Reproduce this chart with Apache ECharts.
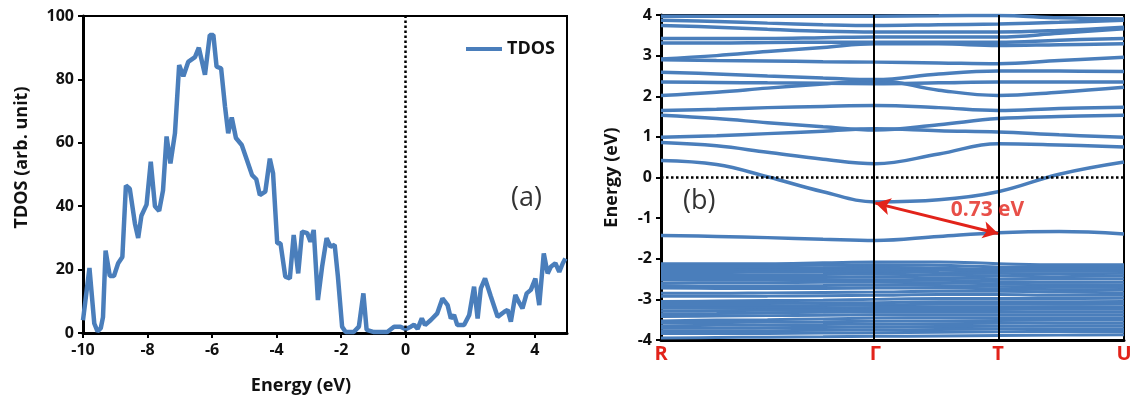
<!DOCTYPE html>
<html><head><meta charset="utf-8">
<script src="https://cdn.jsdelivr.net/npm/echarts@6/dist/echarts.min.js"></script>
<style>html,body{margin:0;padding:0;background:#fff}#c{width:1136px;height:409px}</style>
</head><body><div id="c"></div>
<script>
// ---- Panel (a): TDOS ----
const tdosE = [-10.0,-9.8,-9.65,-9.55,-9.45,-9.38,-9.3,-9.17,-9.04,-8.91,-8.78,-8.67,-8.55,-8.39,-8.29,-8.19,-8.03,-7.9,-7.77,-7.64,-7.52,-7.41,-7.29,-7.15,-7.02,-6.89,-6.74,-6.53,-6.41,-6.22,-6.07,-5.96,-5.86,-5.72,-5.6,-5.5,-5.39,-5.26,-5.08,-4.92,-4.76,-4.63,-4.52,-4.35,-4.21,-4.11,-3.98,-3.88,-3.73,-3.59,-3.47,-3.33,-3.21,-3.05,-2.95,-2.85,-2.72,-2.59,-2.45,-2.33,-2.2,-2.1,-1.97,-1.86,-1.61,-1.45,-1.31,-1.21,-0.98,-0.57,-0.36,-0.16,0.0,0.16,0.26,0.37,0.5,0.6,0.78,0.98,1.14,1.3,1.4,1.5,1.6,1.81,1.97,2.12,2.23,2.33,2.46,2.64,2.85,3.06,3.16,3.26,3.4,3.5,3.62,3.75,3.88,4.02,4.14,4.28,4.4,4.5,4.64,4.76,4.87,4.95];
const tdosV = [4,20.5,3,0.5,1.5,5,26,18,18,22,24,46.5,45.5,34.5,30,37,40.5,54,40,38.5,45,62,53.5,63,84.5,81,85.5,87,90,81.5,94,94,84,83.5,71.5,63,68,61.5,59.3,54.6,49.8,48.5,43.5,44.6,55,50.4,28.3,28.3,17.8,17.2,30.9,18.8,32,31.5,28.8,32.5,10.4,20.9,29.9,27.2,27.8,17.8,2,0.3,0.3,2,12.5,1,0.3,0.3,2,2,1.2,2,2.6,1.3,4.6,2.5,4.1,6.2,10.9,8.8,4.6,5.7,2.5,2.5,5.7,14.6,4.6,14.1,17.2,11.5,5.1,6.7,7.3,3.6,12,9.9,7.8,12.5,13.6,17.2,8.8,25.1,18.8,20.9,22,19.3,22,23.5];

// ---- Panel (b): band structure ----
const kPoints = [0, 0.12, 0.23, 0.35, 0.463, 0.6, 0.728, 0.86, 1];   // sample positions along path
const kLabelPos = [0, 0.463, 0.728, 1];
const kLabels = ['R', 'Γ', 'T', 'U'];
const condBands = [
  [0.42, 0.32, 0.02, -0.35, -0.6, -0.55, -0.35, 0.08, 0.38],
  [0.86, 0.78, 0.62, 0.45, 0.34, 0.58, 0.83, 0.8, 0.75],
  [0.99, 1.03, 1.08, 1.14, 1.2, 1.15, 1.12, 1.05, 0.99],
  [1.53, 1.45, 1.35, 1.25, 1.17, 1.3, 1.45, 1.5, 1.53],
  [1.65, 1.68, 1.72, 1.75, 1.77, 1.72, 1.65, 1.7, 1.73],
  [2.02, 2.1, 2.2, 2.3, 2.39, 2.15, 2.02, 2.1, 2.22],
  [2.35, 2.34, 2.33, 2.32, 2.31, 2.33, 2.35, 2.35, 2.35],
  [2.59, 2.55, 2.5, 2.45, 2.41, 2.55, 2.62, 2.62, 2.61],
  [2.9, 2.88, 2.87, 2.85, 2.84, 2.82, 2.8, 2.88, 2.96],
  [2.92, 3.0, 3.1, 3.2, 3.29, 3.29, 3.25, 3.27, 3.29],
  [3.31, 3.31, 3.32, 3.33, 3.33, 3.33, 3.33, 3.38, 3.42],
  [3.42, 3.42, 3.42, 3.44, 3.46, 3.46, 3.46, 3.55, 3.66],
  [3.74, 3.7, 3.65, 3.6, 3.58, 3.58, 3.58, 3.62, 3.7],
  [3.87, 3.84, 3.8, 3.76, 3.74, 3.76, 3.78, 3.82, 3.87],
  [3.97, 3.97, 3.97, 3.97, 3.97, 3.98, 3.99, 3.93, 3.9]
];
const valBands = [
  [-1.43, -1.45, -1.48, -1.52, -1.55, -1.45, -1.36, -1.33, -1.39],
  [-2.12, -2.12, -2.12, -2.1, -2.08, -2.08, -2.12, -2.15, -2.15],
  [-2.17, -2.17, -2.17, -2.16, -2.15, -2.16, -2.2, -2.2, -2.2],
  [-2.23, -2.23, -2.23, -2.22, -2.21, -2.23, -2.26, -2.26, -2.25],
  [-2.29, -2.29, -2.28, -2.27, -2.26, -2.28, -2.31, -2.31, -2.3],
  [-2.34, -2.34, -2.33, -2.32, -2.31, -2.34, -2.36, -2.37, -2.36],
  [-2.4, -2.4, -2.4, -2.39, -2.38, -2.4, -2.42, -2.44, -2.42],
  [-2.46, -2.46, -2.46, -2.46, -2.45, -2.47, -2.49, -2.5, -2.49],
  [-2.52, -2.52, -2.52, -2.52, -2.52, -2.53, -2.56, -2.58, -2.57],
  [-2.6, -2.59, -2.59, -2.58, -2.58, -2.59, -2.62, -2.64, -2.64],
  [-2.66, -2.67, -2.67, -2.66, -2.65, -2.66, -2.68, -2.7, -2.71],
  [-2.72, -2.73, -2.73, -2.73, -2.72, -2.72, -2.74, -2.76, -2.77],
  [-2.85, -2.85, -2.84, -2.83, -2.82, -2.8, -2.8, -2.82, -2.84],
  [-2.92, -2.92, -2.92, -2.91, -2.9, -2.88, -2.88, -2.9, -2.9],
  [-3.05, -3.04, -3.03, -3.02, -3.0, -2.98, -2.98, -2.98, -2.97],
  [-3.1, -3.1, -3.1, -3.09, -3.08, -3.06, -3.06, -3.06, -3.05],
  [-3.16, -3.16, -3.16, -3.15, -3.14, -3.12, -3.12, -3.12, -3.11],
  [-3.22, -3.22, -3.22, -3.21, -3.2, -3.19, -3.19, -3.18, -3.18],
  [-3.29, -3.28, -3.27, -3.26, -3.25, -3.25, -3.25, -3.24, -3.24],
  [-3.36, -3.35, -3.33, -3.32, -3.31, -3.31, -3.31, -3.31, -3.31],
  [-3.42, -3.41, -3.4, -3.39, -3.38, -3.38, -3.38, -3.38, -3.38],
  [-3.53, -3.51, -3.5, -3.48, -3.46, -3.45, -3.45, -3.45, -3.45],
  [-3.57, -3.57, -3.56, -3.55, -3.54, -3.53, -3.52, -3.51, -3.51],
  [-3.65, -3.64, -3.63, -3.62, -3.61, -3.6, -3.59, -3.58, -3.58],
  [-3.71, -3.71, -3.7, -3.69, -3.68, -3.67, -3.66, -3.65, -3.65],
  [-3.78, -3.78, -3.77, -3.76, -3.75, -3.74, -3.73, -3.72, -3.72],
  [-3.84, -3.84, -3.84, -3.83, -3.82, -3.81, -3.8, -3.79, -3.79],
  [-3.95, -3.94, -3.93, -3.92, -3.91, -3.9, -3.89, -3.88, -3.87]
];
const gapFrom = [0.463, -0.63];
const gapTo = [0.728, -1.38];
const gapText = '0.73 eV';
const gapTextAt = [0.705, -0.8];

const FONT = '"Open Sans"';
const BLUE = '#4a7ebb';
const RED = '#e2231a';
const chart = echarts.init(document.getElementById('c'), null, {renderer: 'canvas'});

const bandSeries = [...condBands, ...valBands].map((b, i) => ({
  type: 'line', xAxisIndex: 1, yAxisIndex: 1,
  data: kPoints.map((k, j) => [k, b[j]]),
  smooth: 0.4, showSymbol: false, silent: true,
  lineStyle: {color: BLUE, width: i < condBands.length + 1 ? 3.5 : 3}, z: 2
}));

const tickLbl = {color: '#111', fontFamily: FONT, fontWeight: 'bold', fontSize: 16};
const nameStyle = {fontFamily: FONT, fontWeight: 'bold', fontSize: 18, color: '#111'};

const option = {
  animation: false,
  backgroundColor: '#fff',
  grid: [
    {left: 83, right: 569, top: 16, bottom: 76, show: true, borderColor: '#000', borderWidth: 2, backgroundColor: 'transparent'},
    {left: 661, right: 12, top: 15, bottom: 69, show: true, borderColor: '#000', borderWidth: 2, backgroundColor: 'transparent'}
  ],
  legend: {
    data: ['TDOS'], left: 461, top: 35, icon: 'rect', itemWidth: 36, itemHeight: 4, itemGap: 2,
    textStyle: {fontFamily: FONT, fontWeight: 'bold', fontSize: 18, color: '#111'}
  },
  xAxis: [
    {type: 'value', gridIndex: 0, min: -10, max: 5, interval: 2,
     name: 'Energy (eV)', nameLocation: 'middle', nameGap: 44,
     nameTextStyle: Object.assign({padding: [0, 48, 0, 0]}, nameStyle),
     axisLine: {onZero: false, lineStyle: {color: '#000', width: 3}},
     axisTick: {show: true, inside: false, length: 5, lineStyle: {color: '#000', width: 2}},
     axisLabel: Object.assign({margin: 9, showMaxLabel: false}, tickLbl),
     splitLine: {show: false}},
    {type: 'value', gridIndex: 1, min: 0, max: 1,
     axisLine: {onZero: false, lineStyle: {color: '#000', width: 3}},
     axisTick: {show: false},
     axisLabel: {customValues: kLabelPos, formatter: v => kLabels[kLabelPos.indexOf(v)] ?? '',
       color: RED, fontFamily: FONT, fontWeight: 'bold', fontSize: 20, margin: 4},
     splitLine: {show: false}}
  ],
  yAxis: [
    {type: 'value', gridIndex: 0, min: 0, max: 100, interval: 20,
     name: 'TDOS (arb. unit)', nameLocation: 'middle', nameGap: 52,
     nameTextStyle: Object.assign({padding: [0, 0, 0, 34]}, nameStyle),
     axisLine: {onZero: false, lineStyle: {color: '#000', width: 3}},
     axisTick: {show: true, length: 5, lineStyle: {color: '#000', width: 2}},
     axisLabel: Object.assign({margin: 9}, tickLbl),
     splitLine: {show: false}},
    {type: 'value', gridIndex: 1, min: -4, max: 4, interval: 1,
     name: 'Energy (eV)', nameLocation: 'middle', nameGap: 40,
     nameTextStyle: nameStyle,
     axisLine: {onZero: false, lineStyle: {color: '#000', width: 3}},
     axisTick: {show: true, length: 5, lineStyle: {color: '#000', width: 2}},
     axisLabel: Object.assign({margin: 9}, tickLbl),
     splitLine: {show: false}}
  ],
  graphic: [
    {type: 'text', left: 511, top: 185, style: {text: '(a)', font: '27px "Open Sans"', fill: '#333'}},
    {type: 'text', left: 683, top: 188, style: {text: '(b)', font: '27px "Open Sans"', fill: '#333'}}
  ],
  series: [
    {name: 'TDOS', type: 'line', xAxisIndex: 0, yAxisIndex: 0,
     data: tdosE.map((e, i) => [e, tdosV[i]]),
     showSymbol: false, lineStyle: {color: BLUE, width: 4.5}, itemStyle: {color: BLUE},
     markLine: {silent: true, symbol: 'none', label: {show: false},
       lineStyle: {color: '#000', type: 'dotted', width: 2.5},
       data: [{xAxis: 0}]}, z: 3},
    ...bandSeries,
    {type: 'line', xAxisIndex: 1, yAxisIndex: 1, data: [], silent: true,
     markLine: {silent: true, symbol: 'none', label: {show: false}, animation: false,
       data: [
         {xAxis: kLabelPos[1], lineStyle: {color: '#000', width: 2, type: 'solid'}},
         {xAxis: kLabelPos[2], lineStyle: {color: '#000', width: 2, type: 'solid'}},
         {yAxis: 0, lineStyle: {color: '#000', width: 2.5, type: 'dotted'}}
       ]}, z: 5},
    {type: 'line', xAxisIndex: 1, yAxisIndex: 1, data: [], silent: true,
     markLine: {silent: true, symbol: ['arrow', 'arrow'], symbolSize: [13, 15], label: {show: false},
       lineStyle: {color: RED, width: 3, type: 'solid'},
       data: [[{coord: gapFrom}, {coord: gapTo}]]}, z: 6},
    {type: 'scatter', xAxisIndex: 1, yAxisIndex: 1, symbolSize: 0, silent: true,
     data: [gapTextAt],
     label: {show: true, position: 'inside', formatter: gapText, color: RED,
       fontFamily: FONT, fontWeight: 'bold', fontSize: 21}, z: 7}
  ]
};
chart.setOption(option);
</script></body></html>
